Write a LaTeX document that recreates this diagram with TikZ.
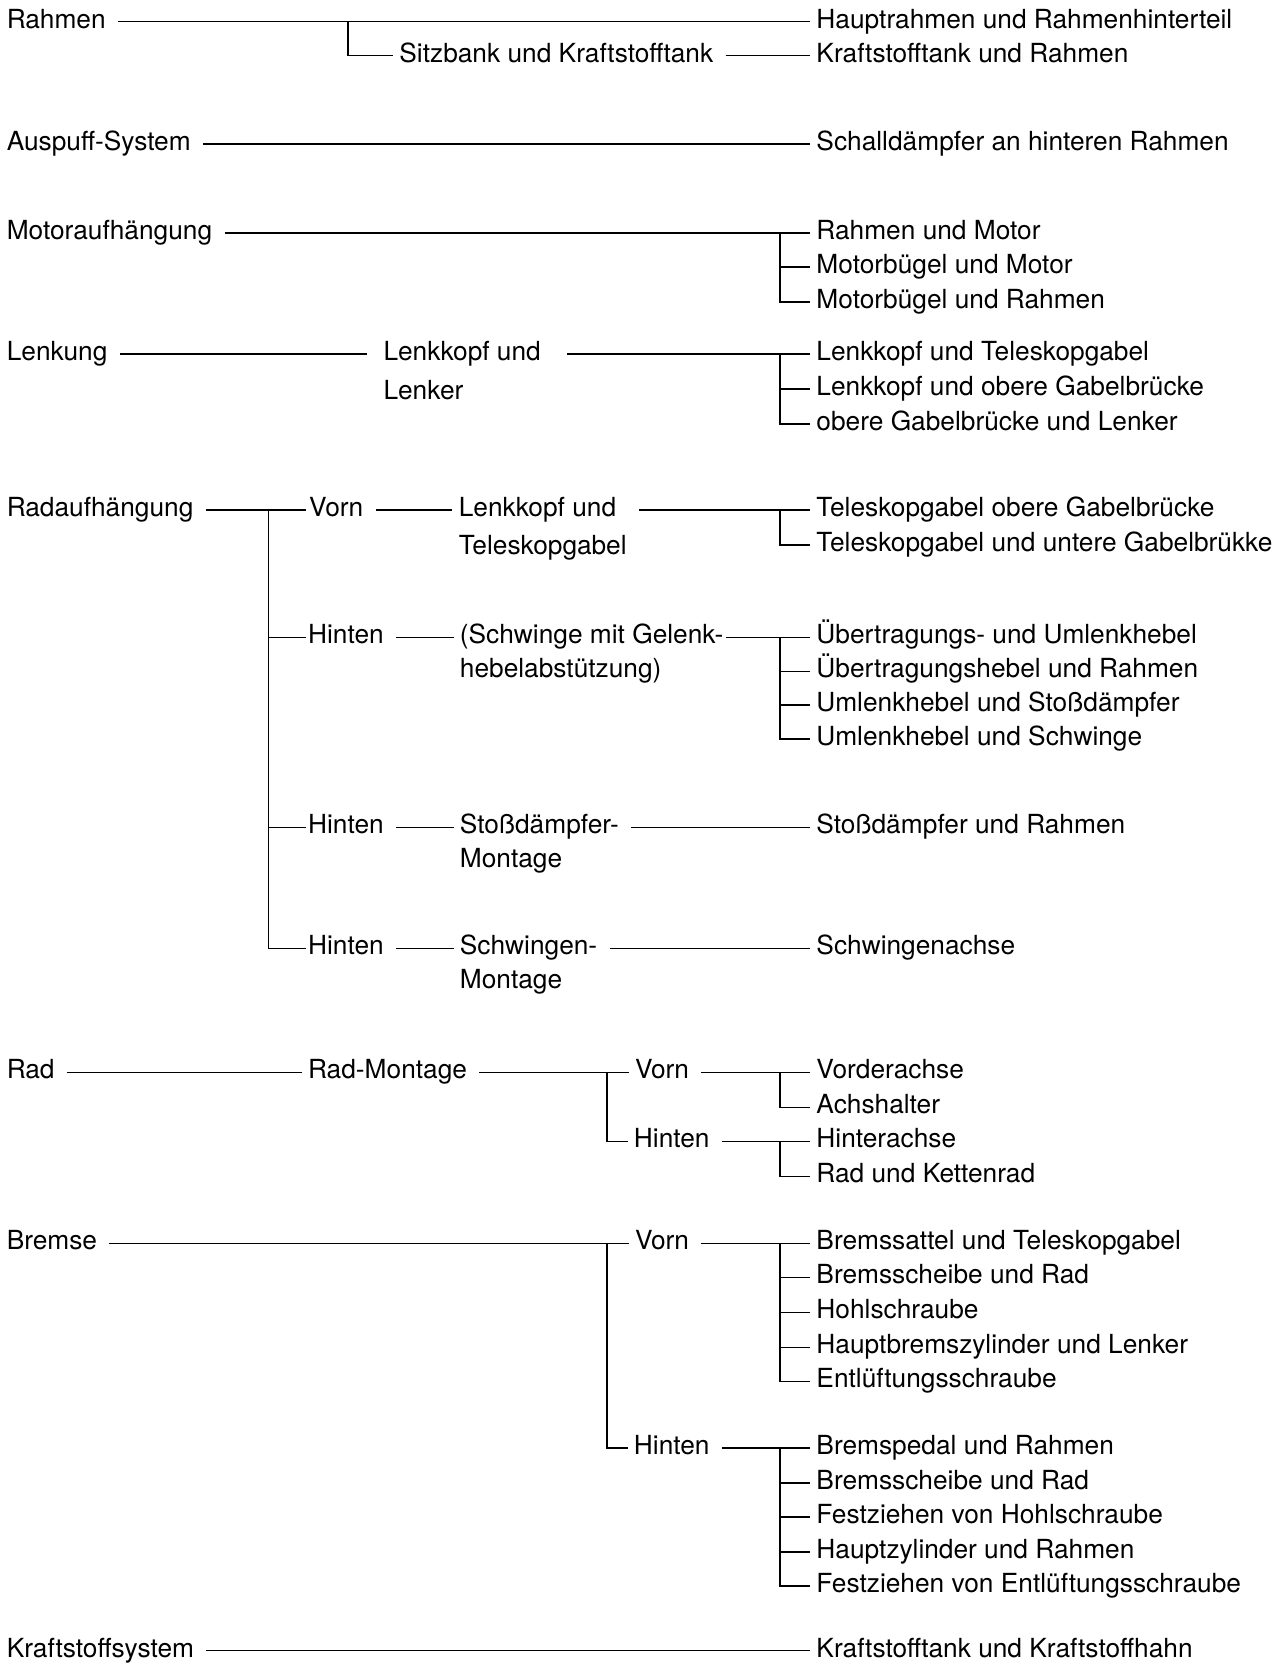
\documentclass[tikz,border=0pt]{standalone}
\usepackage{fontspec}
\setmainfont{TeX Gyre Heros}
\usepackage{tikz}

\newcommand{\twolines}[3][0pt]{\begin{tabular}[t]{@{}l@{}}#2\\[#1]#3\end{tabular}}

\begin{document}
\begin{tikzpicture}[x=0.5308pt, y=-0.5308pt,
    txt/.style={anchor=west, inner sep=0pt, text height=6.5pt, text depth=0pt, font=\fontsize{13.15}{17}\selectfont},
    joinline/.style={line width=0.7pt, shorten <=6pt, shorten >=3pt},
    branchline/.style={line width=0.7pt, shorten >=3pt}]
    \useasboundingbox (0,-2.5) rectangle (1201,1565.5);

    % Nodes
    \node[txt] (rahmen) at (6,18) {Rahmen};
    \node[txt] (haupt) at (769,18) {Hauptrahmen und Rahmenhinterteil};
    \node[txt] (sitzbank) at (376,50) {Sitzbank und Kraftstofftank};
    \node[txt] (ktank) at (769,50) {Kraftstofftank und Rahmen};
    \coordinate (rbus) at (328,18);

    \node[txt] (auspuff) at (6,133) {Auspuff-System};
    \node[txt] (schall) at (769,133) {Schalldämpfer an hinteren Rahmen};

    \node[txt] (motor) at (6,217) {Motoraufhängung};
    \node[txt] (rm) at (769,217) {Rahmen und Motor};
    \node[txt] (mbm) at (769,249) {Motorbügel und Motor};
    \node[txt] (mbr) at (769,282) {Motorbügel und Rahmen};
    \coordinate (mbus) at (735,217);

    \node[txt] (lenkung) at (6,331) {Lenkung};
    \node[txt] (lenkkopf) at (361,331) {\twolines[2.6pt]{Lenkkopf und}{Lenker}};
    \node[txt] (lt) at (769,331) {Lenkkopf und Teleskopgabel};
    \node[txt] (lg) at (769,364) {Lenkkopf und obere Gabelbrücke};
    \node[txt] (gl) at (769,397) {obere Gabelbrücke und Lenker};
    \coordinate (lbus) at (735,331);

    \node[txt] (radauf) at (6,478) {Radaufhängung};
    \node[txt] (vorn) at (291,478) {Vorn};
    \node[txt] (lkt) at (432,478) {\twolines[2pt]{Lenkkopf und}{Teleskopgabel}};
    \node[txt] (tog) at (769,478) {Teleskopgabel obere Gabelbrücke};
    \node[txt] (tug) at (769,511) {Teleskopgabel und untere Gabelbrükke};
    \coordinate (abus) at (253,478);
    \coordinate (tbus) at (735,478);

    \node[txt] (hinten1) at (290,598) {Hinten};
    \node[txt] (schwinge) at (433,598) {\twolines{(Schwinge mit Gelenk-}{hebelabstützung)}};
    \node[txt] (ue1) at (769,598) {Übertragungs- und Umlenkhebel};
    \node[txt] (ue2) at (769,630) {Übertragungshebel und Rahmen};
    \node[txt] (um1) at (769,662) {Umlenkhebel und Stoßdämpfer};
    \node[txt] (um2) at (769,694) {Umlenkhebel und Schwinge};
    \coordinate (ubus) at (735,598);

    \node[txt] (hinten2) at (290,777) {Hinten};
    \node[txt] (sdm) at (433,777) {\twolines{Stoßdämpfer-}{Montage}};
    \node[txt] (sdr) at (769,777) {Stoßdämpfer und Rahmen};

    \node[txt] (hinten3) at (290,891) {Hinten};
    \node[txt] (swm) at (433,891) {\twolines{Schwingen-}{Montage}};
    \node[txt] (swa) at (769,891) {Schwingenachse};

    \node[txt] (rad) at (6,1008) {Rad};
    \node[txt] (radm) at (290,1008) {Rad-Montage};
    \node[txt] (rvorn) at (598,1008) {Vorn};
    \node[txt] (vachse) at (769,1008) {Vorderachse};
    \node[txt] (achs) at (769,1041) {Achshalter};
    \node[txt] (rhinten) at (597,1073) {Hinten};
    \node[txt] (hachse) at (769,1073) {Hinterachse};
    \node[txt] (kette) at (769,1106) {Rad und Kettenrad};
    \coordinate (dbus) at (572,1008);
    \coordinate (vbus) at (735,1008);
    \coordinate (hbus) at (735,1073);

    \node[txt] (bremse) at (6,1169) {Bremse};
    \node[txt] (bvorn) at (598,1169) {Vorn};
    \node[txt] (bv1) at (769,1169) {Bremssattel und Teleskopgabel};
    \node[txt] (bv2) at (769,1201) {Bremsscheibe und Rad};
    \node[txt] (bv3) at (769,1234) {Hohlschraube};
    \node[txt] (bv4) at (769,1267) {Hauptbremszylinder und Lenker};
    \node[txt] (bv5) at (769,1299) {Entlüftungsschraube};
    \node[txt] (bhinten) at (597,1362) {Hinten};
    \node[txt] (bh1) at (769,1362) {Bremspedal und Rahmen};
    \node[txt] (bh2) at (769,1395) {Bremsscheibe und Rad};
    \node[txt] (bh3) at (769,1427) {Festziehen von Hohlschraube};
    \node[txt] (bh4) at (769,1460) {Hauptzylinder und Rahmen};
    \node[txt] (bh5) at (769,1492) {Festziehen von Entlüftungsschraube};
    \coordinate (bbus) at (572,1169);
    \coordinate (bvbus) at (735,1169);
    \coordinate (bhbus) at (735,1362);

    \node[txt] (kraft) at (6,1553) {Kraftstoffsystem};
    \node[txt] (khahn) at (769,1553) {Kraftstofftank und Kraftstoffhahn};

    % Lines
    \draw[joinline] (rahmen) -- (haupt);
    \draw[branchline] (rbus) |- (sitzbank);
    \draw[joinline] (sitzbank) -- (ktank);

    \draw[joinline] (auspuff) -- (schall);

    \draw[joinline] (motor) -- (rm);
    \foreach \n in {mbm,mbr} \draw[branchline] (mbus) |- (\n);

    \draw[joinline, shorten >=8pt] (lenkung) -- (lenkkopf);
    \draw[joinline, shorten <=13pt] (lenkkopf) -- (lt);
    \foreach \n in {lg,gl} \draw[branchline] (lbus) |- (\n);

    \draw[joinline, shorten >=1.2pt] (radauf) -- (vorn);
    \foreach \n in {hinten1,hinten2,hinten3} \draw[branchline, shorten >=1pt] (abus) |- (\n);
    \draw[joinline] (vorn) -- (lkt);
    \draw[joinline] (lkt) -- (tog);
    \draw[branchline] (tbus) |- (tug);
    \draw[joinline] (hinten1) -- (schwinge);
    \draw[joinline, shorten <=1pt] (schwinge) -- (ue1);
    \foreach \n in {ue2,um1,um2} \draw[branchline] (ubus) |- (\n);
    \draw[joinline] (hinten2) -- (sdm);
    \draw[joinline] (sdm) -- (sdr);
    \draw[joinline] (hinten3) -- (swm);
    \draw[joinline] (swm) -- (swa);

    \draw[joinline] (rad) -- (radm);
    \draw[joinline] (radm) -- (rvorn);
    \draw[branchline] (dbus) |- (rhinten);
    \draw[joinline] (rvorn) -- (vachse);
    \draw[branchline] (vbus) |- (achs);
    \draw[joinline] (rhinten) -- (hachse);
    \draw[branchline] (hbus) |- (kette);

    \draw[joinline] (bremse) -- (bvorn);
    \draw[branchline] (bbus) |- (bhinten);
    \draw[joinline] (bvorn) -- (bv1);
    \foreach \n in {bv2,bv3,bv4,bv5} \draw[branchline] (bvbus) |- (\n);
    \draw[joinline] (bhinten) -- (bh1);
    \foreach \n in {bh2,bh3,bh4,bh5} \draw[branchline] (bhbus) |- (\n);

    \draw[joinline] (kraft) -- (khahn);
\end{tikzpicture}
\end{document}
